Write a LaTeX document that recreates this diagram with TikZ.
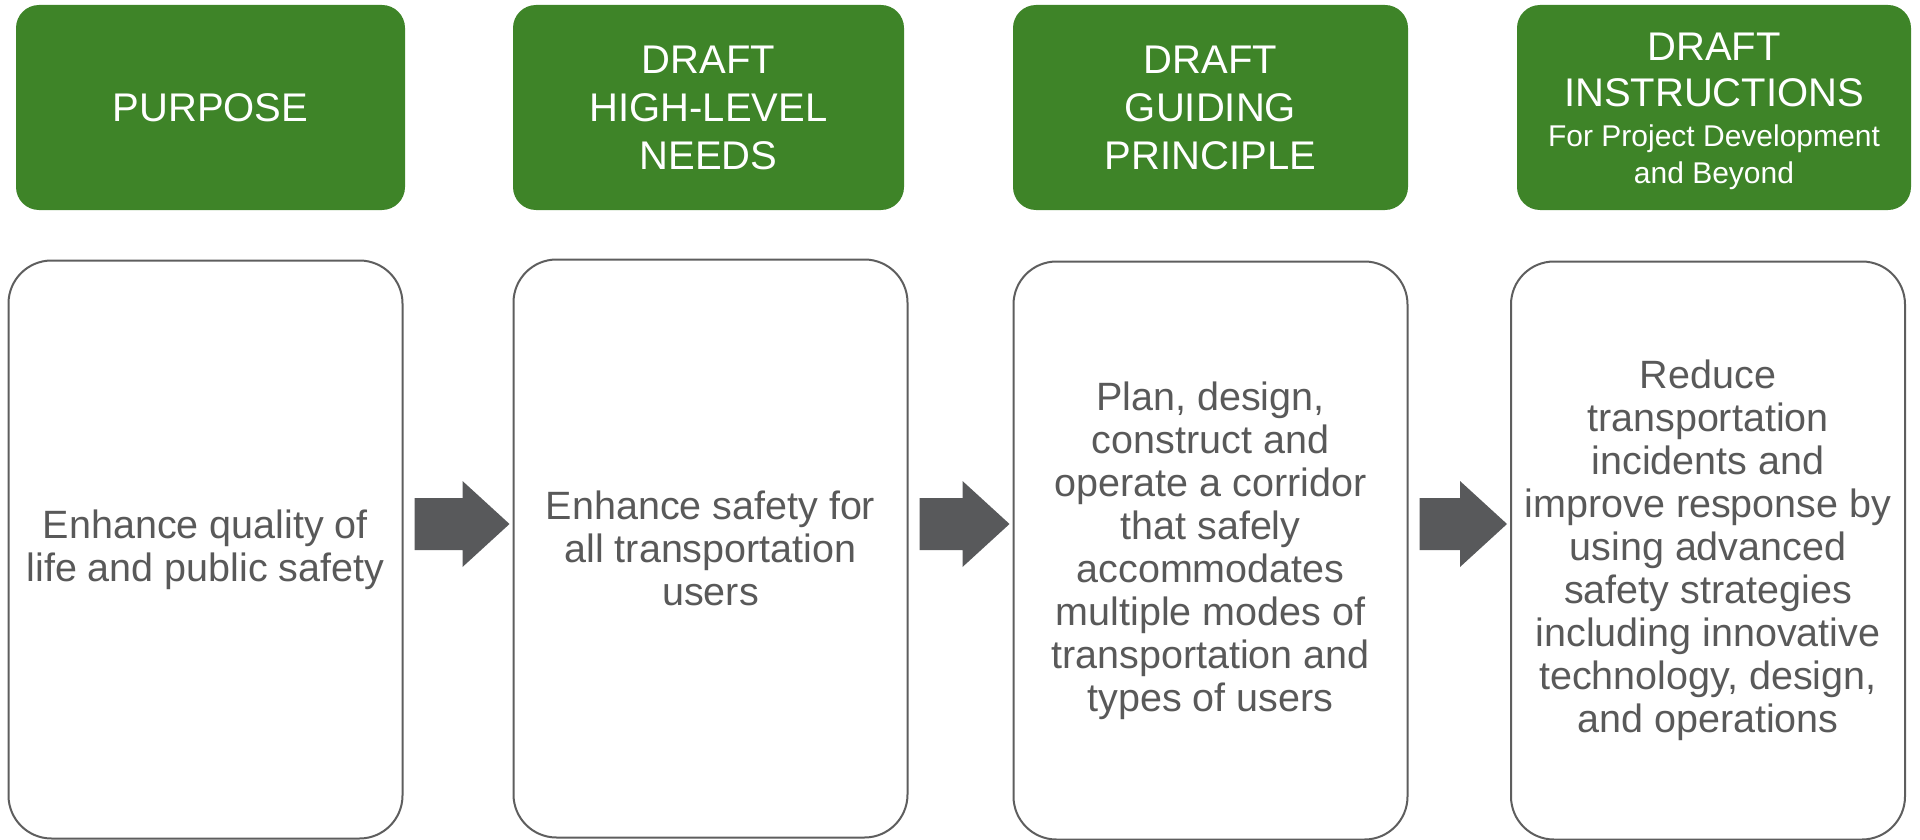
\documentclass[tikz,border=0pt]{standalone}
\usepackage{fontspec}
\setmainfont{Liberation Sans}
\usetikzlibrary{calc}
\definecolor{hdrgreen}{HTML}{3E8428}
\definecolor{arrowgray}{HTML}{58595B}
\definecolor{boxline}{HTML}{5E5E5E}
\definecolor{bodytext}{HTML}{595959}
\tikzset{
  header/.style={fill=hdrgreen, draw=none, rounded corners=23pt, text=white, align=center,
    minimum height=205pt, inner sep=0pt, font=\fontsize{40}{48}\selectfont},
  bodybox/.style={draw=boxline, line width=2pt, fill=white, rounded corners=43pt, text=bodytext,
    align=center, minimum height=578pt, minimum width=394pt, inner sep=0pt,
    font=\fontsize{39.5}{43}\selectfont},
  blockarrow/.style={fill=arrowgray, draw=none}
}
\begin{document}
\begin{tikzpicture}[x=1pt,y=-1pt]
\useasboundingbox (0,0) rectangle (1920,840);
% headers
\node[header, minimum width=389pt] (h1) at (210.5,107.5) {PURPOSE};
\node[header, minimum width=391pt] (h2) at (708.5,107.5) {DRAFT\\HIGH-LEVEL\\NEEDS};
\node[header, minimum width=395pt] (h3) at (1210.5,107.5) {DRAFT\\GUIDING\\PRINCIPLE};
\node[header, minimum width=394pt] (h4) at (1714,107.5) {};
\node[text=white, align=center, inner sep=0pt, font=\fontsize{40}{46}\selectfont] (h4text)
  at ([yshift=-4pt]h4.center)
  {DRAFT\\INSTRUCTIONS\\[-6pt]{\fontsize{30}{36}\selectfont For Project Development}\\[-9pt]{\fontsize{30}{36}\selectfont and Beyond}};
% body boxes
\node[bodybox] (w1) at (205.5,549.5) {Enhance quality of\\life and public safety};
\node[bodybox] (w2) at (710.5,548.5) {Enhance safety for\\all transportation\\users};
\node[bodybox] (w3) at (1210.5,550.5) {Plan, design,\\construct and\\operate a corridor\\that safely\\accommodates\\multiple modes of\\transportation and\\types of users};
\node[bodybox] (w4) at (1708,550.5) {Reduce\\transportation\\incidents and\\improve response by\\using advanced\\safety strategies\\including innovative\\technology, design,\\and operations};
% block arrows
\coordinate (ay) at (0,524);
\foreach \a/\b/\n in {w1/w2/1, w2/w3/2, w3/w4/3}{
  \path (\b.west |- ay) ++(-3,0) coordinate (tip\n);
  \path (\a.east |- ay) ++(11,0) coordinate (tail\n);
  \fill[blockarrow] (tip\n) -- ($(tip\n)+(-47,-43)$) -- ($(tip\n)+(-47,-26)$) -- ($(tail\n)+(0,-26)$)
    -- ($(tail\n)+(0,26)$) -- ($(tip\n)+(-47,26)$) -- ($(tip\n)+(-47,43)$) -- cycle;
}
\end{tikzpicture}
\end{document}
